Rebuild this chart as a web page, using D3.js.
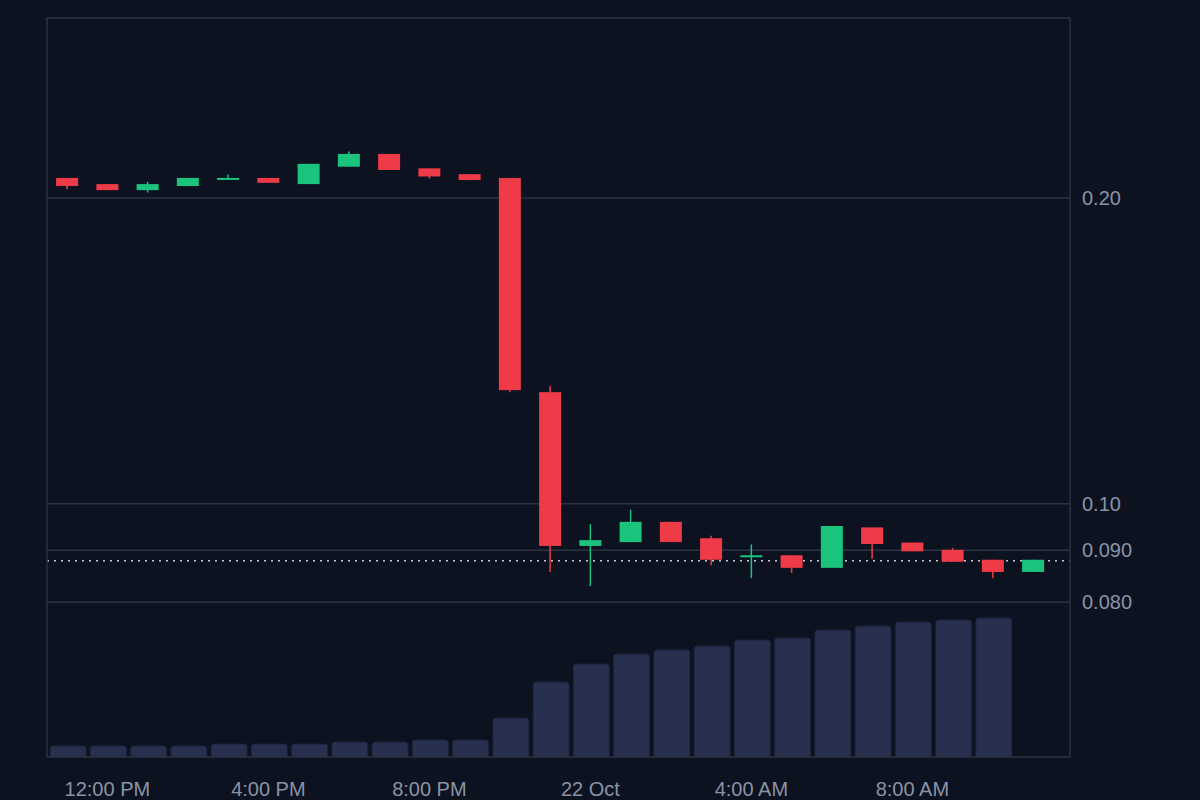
<!DOCTYPE html><html><head><meta charset="utf-8">
<script src="https://cdn.jsdelivr.net/npm/d3@7"></script>
<style>body{margin:0;background:#0c1220}</style></head><body><svg id="c" width="1200" height="800"></svg>
<script>
const times=d3.range(25).map(i=>new Date(2024,9,21,11+i));
const opens =[0.2093,0.2064,0.2036,0.2055,0.2090,0.2093,0.2064,0.2147,0.2210,0.2139,0.2111,0.2093,0.1288,0.0909,0.0917,0.0960,0.0925,0.0887,0.0890,0.0865,0.0948,0.0916,0.0901,0.0881,0.0857];
const closes=[0.2055,0.2036,0.2064,0.2093,0.2093,0.2070,0.2161,0.2210,0.2131,0.2100,0.2083,0.1294,0.0909,0.0921,0.0960,0.0917,0.0881,0.0890,0.0865,0.0951,0.0913,0.0898,0.0877,0.0857,0.0881];
const highs =[0.2093,0.2064,0.2075,0.2093,0.2110,0.2093,0.2161,0.2222,0.2210,0.2139,0.2111,0.2093,0.1306,0.0955,0.0987,0.0960,0.0930,0.0912,0.0890,0.0951,0.0948,0.0916,0.0905,0.0881,0.0881];
const lows  =[0.2040,0.2036,0.2025,0.2055,0.2090,0.2070,0.2064,0.2147,0.2131,0.2090,0.2083,0.1288,0.0857,0.0830,0.0917,0.0917,0.0870,0.0845,0.0855,0.0865,0.0883,0.0898,0.0877,0.0845,0.0857];
const volumes=[11,11,11,11,13,13,13,15,15,17,17,39,75,93,103,107,111,117,119,127,131,135,137,139];
const priceTicks=[0.08,0.09,0.1,0.2];
const lastPrice=0.0879;
const svg=d3.select("#c");
const L=47,R=1070,T=18,B=757;
svg.append("rect").attr("width",1200).attr("height",800).attr("fill","#0c1220");
const x=d3.scaleTime().domain([new Date(2024,9,21,10,30),new Date(2024,9,22,11,55)]).range([L,R]);
const y=d3.scaleLog().domain([0.2*Math.pow(10,-(B-198)/1016),0.2*Math.pow(10,(198-T)/1016)]).range([B,T]);
const yv=d3.scaleLinear().domain([0,139]).range([B,618]);
// grid
svg.selectAll(".g").data(priceTicks).join("line").attr("x1",L).attr("x2",R).attr("y1",d=>y(d)).attr("y2",d=>y(d)).attr("stroke","#2b3242").attr("stroke-width",1.5);
const fmt=d=>d>=0.1?d.toFixed(2):d.toFixed(3);
svg.selectAll(".t").data(priceTicks).join("text").attr("x",1082).attr("y",d=>y(d)+7).text(fmt).attr("fill","#8a93a6").attr("font-family","Liberation Sans, Arial").attr("font-size",20);
// volume
const bw=38;
svg.selectAll(".v").data(volumes).join("path").attr("d",(d,i)=>{const cx=x(times[i])+1,x0=cx-bw/2+1,x1=cx+bw/2-1,y0=yv(d),r=3;return `M${x0},${B}V${y0+r}Q${x0},${y0} ${x0+r},${y0}H${x1-r}Q${x1},${y0} ${x1},${y0+r}V${B}Z`;}).attr("fill","#27304f").attr("stroke","#1c2337");
// last price line
svg.append("line").attr("x1",L).attr("x2",R).attr("y1",y(lastPrice)).attr("y2",y(lastPrice)).attr("stroke","#c8ccd6").attr("stroke-dasharray","2,5").attr("stroke-width",1.5);
// candles
const cw=22;
const col=i=>closes[i]>=opens[i]?"#1bc47d":"#ef3b47";
svg.selectAll(".w").data(times).join("line").attr("x1",d=>x(d)).attr("x2",d=>x(d)).attr("y1",(d,i)=>y(highs[i])).attr("y2",(d,i)=>y(lows[i])).attr("stroke",(d,i)=>col(i)).attr("stroke-width",1.5);
svg.selectAll(".b").data(times).join("rect").attr("x",d=>x(d)-cw/2).attr("width",cw).attr("y",(d,i)=>y(Math.max(opens[i],closes[i]))).attr("height",(d,i)=>Math.max(2,Math.abs(y(opens[i])-y(closes[i])))).attr("fill",(d,i)=>col(i));
// frame
svg.append("rect").attr("x",L).attr("y",T).attr("width",R-L).attr("height",B-T).attr("fill","none").attr("stroke","#2b3242").attr("stroke-width",1.5);
// x axis
const xt=[new Date(2024,9,21,12),new Date(2024,9,21,16),new Date(2024,9,21,20),new Date(2024,9,22,0),new Date(2024,9,22,4),new Date(2024,9,22,8)];
const xf=d=>d.getHours()===0?"22 Oct":d3.timeFormat("%-I:%M %p")(d);
svg.selectAll(".xt").data(xt).join("text").attr("x",d=>x(d)).attr("y",796).attr("text-anchor","middle").text(xf).attr("fill","#8a93a6").attr("font-family","Liberation Sans, Arial").attr("font-size",20);
</script></body></html>
